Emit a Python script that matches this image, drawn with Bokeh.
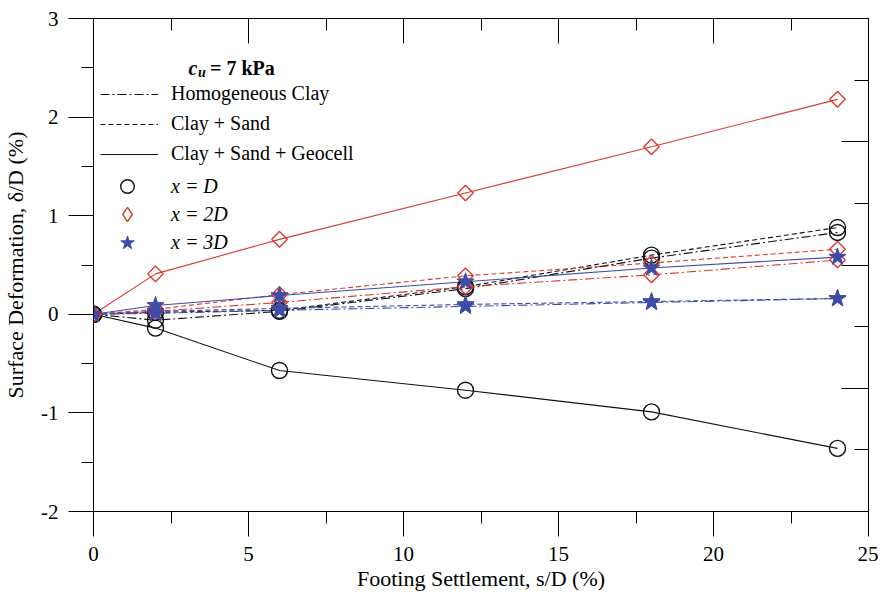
import math
from bokeh.plotting import figure
from bokeh.models import Range1d, LinearAxis, FixedTicker, Legend, LegendItem, Label
from bokeh.embed import file_html
from bokeh.resources import INLINE

# ---------------- data ----------------
settlement = [0, 2, 6, 12, 18, 24]          # s/D (%)
# x = D (black)
d1_homog = [0, -0.06, 0.03, 0.26, 0.57, 0.83]
d1_sand = [0, 0.02, 0.04, 0.28, 0.60, 0.88]
d1_geocell = [0, -0.14, -0.57, -0.77, -0.99, -1.36]
# x = 2D (red)
d2_homog = [0, 0.03, 0.12, 0.28, 0.40, 0.55]
d2_sand = [0, 0.05, 0.20, 0.39, 0.52, 0.66]
d2_geocell = [0, 0.41, 0.76, 1.23, 1.70, 2.18]
# x = 3D (blue)
d3_homog = [0, 0.01, 0.04, 0.08, 0.12, 0.16]
d3_sand = [0, 0.03, 0.06, 0.10, 0.13, 0.16]
d3_geocell = [0, 0.09, 0.19, 0.33, 0.47, 0.58]

x_major = [0, 5, 10, 15, 20, 25]
x_minor = [2.5, 7.5, 12.5, 17.5, 22.5]
x_labels = ["0", "5", "10", "15", "20", "25"]
y_major = [-2, -1, 0, 1, 2, 3]
y_minor = [-1.5, -0.5, 0.5, 1.5, 2.5]
y_labels = ["-2", "-1", "0", "1", "2", "3"]
r_major = [0, 2, 4, 6, 8]
r_minor = [1, 3, 5, 7]

line_names = ["Homogeneous Clay", "Clay + Sand", "Clay + Sand + Geocell"]
marker_names = ["x = D", "x = 2D", "x = 3D"]
x_title = "Footing Settlement, s/D (%)"
y_title = "Surface Deformation, δ/D (%)"

# ---------------- styles ----------------
BLACK = "#111111"
RED = "#d93a2f"
BLUE = "#3d4ca8"
DASHDOT = "9 3 2 3"
DASHED = "5 3"
FONT = "Liberation Serif"

p = figure(frame_width=775, frame_height=493,
           x_range=Range1d(0, 25), y_range=Range1d(-2, 3),
           output_backend="svg", toolbar_location=None,
           min_border_left=93, min_border_right=10,
           min_border_top=18, min_border_bottom=80)
p.xgrid.visible = False
p.ygrid.visible = False
p.outline_line_color = "black"
p.background_fill_color = "white"


def style_axis(ax, tin, tout, mtin, mtout, ticks, labels):
    ax.major_tick_in = tin
    ax.major_tick_out = tout
    ax.minor_tick_in = mtin
    ax.minor_tick_out = mtout
    ax.axis_line_color = "black"
    ax.major_tick_line_color = "black"
    ax.minor_tick_line_color = "black"
    ax.major_label_text_font = FONT
    ax.major_label_text_color = "black"
    ax.major_label_text_font_size = "21px"
    ax.major_label_overrides = {t: lab for t, lab in zip(ticks, labels)}
    ax.major_label_standoff = 10


xa = p.xaxis[0]
xa.ticker = FixedTicker(ticks=x_major, minor_ticks=x_minor)
style_axis(xa, 0, 25, 0, 12, x_major, x_labels)
xa.axis_label = x_title
xa.axis_label_text_font = FONT
xa.axis_label_text_font_size = "22px"
xa.axis_label_text_font_style = "normal"
xa.axis_label_text_color = "black"
xa.axis_label_standoff = 2

ya = p.yaxis[0]
ya.ticker = FixedTicker(ticks=y_major, minor_ticks=y_minor)
style_axis(ya, 0, 25, 0, 12, y_major, y_labels)
ya.axis_label = y_title
ya.axis_label_text_font = FONT
ya.axis_label_text_font_size = "22px"
ya.axis_label_text_font_style = "normal"
ya.axis_label_text_color = "black"
ya.axis_label_standoff = 10

top = LinearAxis(ticker=FixedTicker(ticks=x_major, minor_ticks=x_minor))
style_axis(top, 25, 0, 12, 0, x_major, [""] * len(x_major))
top.major_label_standoff = 0
p.add_layout(top, "above")

p.extra_y_ranges = {"right": Range1d(0, 8)}
right = LinearAxis(y_range_name="right",
                   ticker=FixedTicker(ticks=r_major, minor_ticks=r_minor))
style_axis(right, 27, 0, 14, 0, r_major, [""] * len(r_major))
right.major_label_standoff = 0
p.add_layout(right, "right")

# ---------------- lines ----------------
groups = [
    (BLACK, [d1_homog, d1_sand, d1_geocell]),
    (RED, [d2_homog, d2_sand, d2_geocell]),
    (BLUE, [d3_homog, d3_sand, d3_geocell]),
]
dashes = [DASHDOT, DASHED, "solid"]
line_rs = {}
for gi, (col, series) in enumerate(groups):
    for si, ys in enumerate(series):
        r = p.line(settlement, ys, line_color=col, line_width=1.1,
                   line_dash=dashes[si])
        line_rs[(gi, si)] = r

# ---------------- markers ----------------
marker_rs = {}
for gi, (col, series) in enumerate(groups):
    for si, ys in enumerate(series):
        if gi == 0:
            r = p.scatter(settlement, ys, marker="circle", size=16,
                          fill_color=None, line_color=BLACK, line_width=1.4)
        elif gi == 1:
            r = p.scatter(settlement, ys, marker="square", angle=math.pi / 4,
                          size=11, fill_color=None, line_color=RED,
                          line_width=1.4)
        else:
            r = p.scatter(settlement, ys, marker="star", size=18,
                          fill_color=BLUE, line_color=BLUE, line_width=1)
        marker_rs[(gi, si)] = r

# key glyph for the diamond legend entry (legend keys ignore angles);
# its single point is NaN so nothing is drawn in the plot area
diamond_key = p.scatter([float("nan")], [float("nan")], marker="diamond",
                        fill_color=None, line_color=RED, line_width=1.4)

# ---------------- legends ----------------
leg_lines = Legend(
    items=[LegendItem(label=line_names[i], renderers=[line_rs[(0, i)]])
           for i in range(3)],
    location=(7, 346), orientation="vertical",
    glyph_width=58, glyph_height=20, label_height=20, spacing=7,
    label_standoff=13, padding=0, margin=0,
    border_line_color=None, background_fill_alpha=0,
    label_text_font=FONT, label_text_font_size="20px",
    label_text_color="black")
p.add_layout(leg_lines)

marker_keys = [marker_rs[(0, 2)], diamond_key, marker_rs[(2, 2)]]
marker_leg_geom = [(3, 308, 34), (3, 279, 36), (3, 251, 35)]
for gi in range(3):
    lx, ly, gh = marker_leg_geom[gi]
    leg = Legend(
        items=[LegendItem(label=marker_names[gi], renderers=[marker_keys[gi]])],
        location=(lx, ly), orientation="vertical",
        glyph_width=62, glyph_height=gh, label_height=gh, spacing=0,
        label_standoff=13, padding=0, margin=0,
        border_line_color=None, background_fill_alpha=0,
        label_text_font=FONT, label_text_font_size="20px",
        label_text_font_style="italic", label_text_color="black")
    p.add_layout(leg)

# ---------------- c_u title ----------------
p.add_layout(Label(x=95, y=443.7, x_units="screen", y_units="screen",
                   text="c", text_font=FONT, text_font_size="20px",
                   text_font_style="bold italic", text_baseline="alphabetic",
                   text_color="black"))
p.add_layout(Label(x=104.5, y=438.7, x_units="screen", y_units="screen",
                   text="u", text_font=FONT, text_font_size="14px",
                   text_font_style="bold italic", text_baseline="alphabetic",
                   text_color="black"))
p.add_layout(Label(x=116.5, y=443.7, x_units="screen", y_units="screen",
                   text="= 7 kPa", text_font=FONT, text_font_size="20px",
                   text_font_style="bold", text_baseline="alphabetic",
                   text_color="black"))

open("out.html", "w").write(file_html(p, INLINE))
